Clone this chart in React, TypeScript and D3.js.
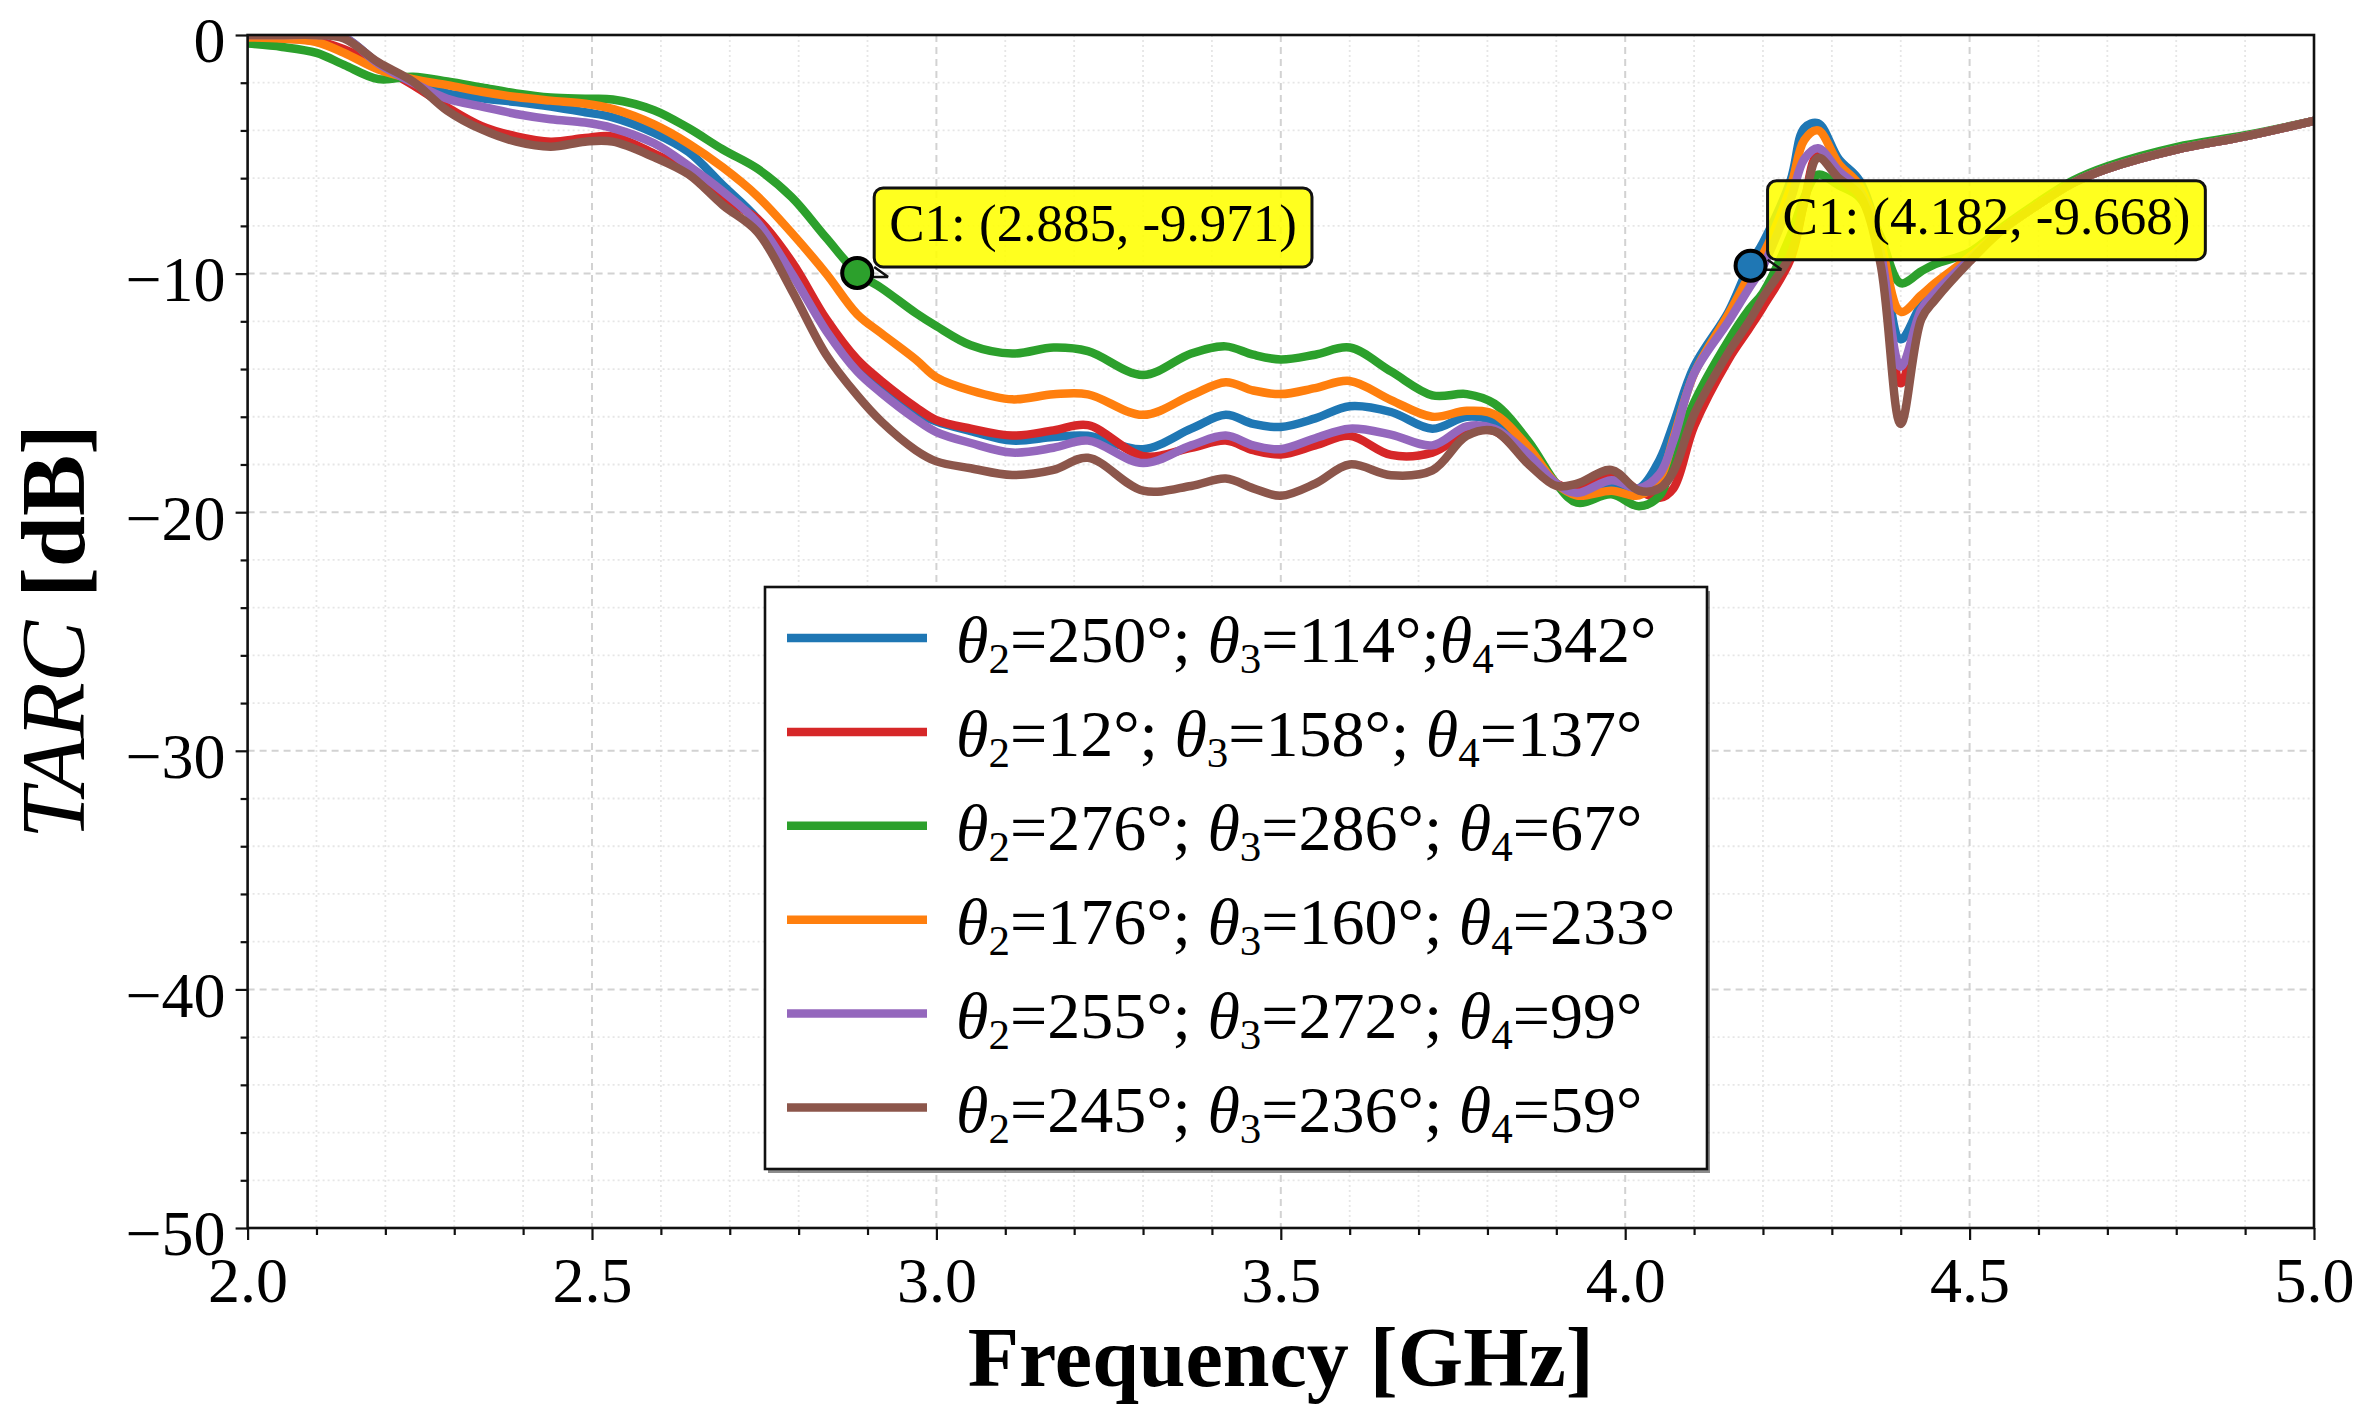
import React, { useEffect, useRef } from "react";
import * as d3 from "d3";

// frequency samples (GHz)
const freqs = [
  2.0, 2.05, 2.1, 2.14, 2.19, 2.24, 2.29, 2.34, 2.39, 2.44, 2.49, 2.53, 2.59, 2.64, 2.69,
  2.74, 2.79, 2.84, 2.885, 2.92, 2.97,
  3.0, 3.05, 3.11, 3.17, 3.22, 3.3, 3.37, 3.42, 3.46, 3.5,
  3.55, 3.6, 3.66, 3.72, 3.77, 3.81, 3.86, 3.9, 3.93, 3.98,
  4.02, 4.05, 4.07, 4.1, 4.15, 4.18, 4.2, 4.24, 4.26, 4.28,
  4.31, 4.34, 4.37, 4.4, 4.43, 4.45, 4.5, 4.55, 4.6, 4.65,
  4.7, 4.8, 4.9, 5.0,
];

// TARC [dB] per configuration
const tarcBlue = [
  0, 0, 0, -0.1, -1.2, -1.95, -2.45, -2.65, -2.81, -3.0, -3.24, -3.45, -4.1, -4.9, -6.3,
  -7.7, -9.7, -12.1, -13.8, -14.7, -15.8,
  -16.2, -16.6, -17.0, -16.85, -16.8, -17.36, -16.5, -15.92, -16.3, -16.43,
  -16.07, -15.56, -15.8, -16.5, -16.0, -16.2, -17.5, -18.8, -19.1, -18.95,
  -19.0, -17.8, -16.3, -13.9, -11.6, -9.668, -8.7, -6.1, -3.9, -3.7,
  -5.2, -6.1, -8.7, -12.75, -11.3, -10.7, -9.4, -8.1, -7.1, -6.2,
  -5.6, -4.8, -4.25, -3.6,
];
const tarcRed = [
  -0.1, -0.15, -0.25, -0.6, -1.3, -2.1, -3.03, -3.82, -4.25, -4.47, -4.32, -4.25, -4.97, -5.69, -6.84,
  -7.7, -9.5, -11.9, -13.6, -14.5, -15.6,
  -16.14, -16.5, -16.79, -16.57, -16.35, -17.65, -17.3, -17.0, -17.4, -17.58,
  -17.2, -16.8, -17.6, -17.5, -16.7, -16.6, -17.9, -18.8, -19.0, -18.4,
  -19.1, -19.4, -19.0, -16.4, -13.6, -12.3, -11.4, -9.4, -7.0, -5.0,
  -5.9, -6.6, -9.2, -14.6, -11.6, -10.9, -9.4, -8.1, -7.1, -6.2,
  -5.6, -4.8, -4.25, -3.6,
];
const tarcGreen = [
  -0.36, -0.5, -0.75, -1.25, -1.85, -1.75, -1.95, -2.2, -2.45, -2.62, -2.67, -2.7, -3.15, -3.9, -4.8,
  -5.6, -6.8, -8.5, -9.971, -10.6, -11.65,
  -12.2, -13.0, -13.35, -13.1, -13.25, -14.25, -13.35, -13.05, -13.4, -13.6,
  -13.4, -13.1, -14.1, -15.1, -15.05, -15.45, -17.05, -18.8, -19.6, -19.25,
  -19.75, -19.3, -17.6, -15.4, -12.8, -11.5, -10.8, -8.4, -6.8, -5.85,
  -6.3, -6.8, -8.4, -10.4, -9.9, -9.6, -9.1, -8.0, -7.0, -6.1,
  -5.5, -4.7, -4.2, -3.6,
];
const tarcOrange = [
  -0.1, -0.15, -0.3, -0.75, -1.45, -1.85, -2.1, -2.38, -2.6, -2.75, -2.88, -3.1, -3.75, -4.55, -5.55,
  -6.75, -8.3, -10.0, -11.7, -12.5, -13.6,
  -14.35, -14.9, -15.27, -15.06, -15.06, -15.92, -15.1, -14.55, -14.9, -15.05,
  -14.8, -14.5, -15.3, -16.0, -15.75, -15.9, -17.3, -18.8, -19.3, -19.1,
  -19.3, -18.6, -16.9, -14.2, -11.7, -10.1, -9.2, -6.4, -4.4, -4.0,
  -5.4, -6.3, -8.6, -11.6, -10.9, -10.4, -9.3, -8.1, -7.1, -6.2,
  -5.6, -4.8, -4.25, -3.6,
];
const tarcPurple = [
  0, 0, 0, -0.1, -1.2, -2.0, -2.67, -3.0, -3.31, -3.53, -3.67, -3.9, -4.54, -5.48, -6.56,
  -7.85, -10.0, -12.4, -14.1, -15.0, -16.1,
  -16.64, -17.1, -17.5, -17.3, -17.0, -17.94, -17.2, -16.79, -17.2, -17.36,
  -16.9, -16.5, -16.75, -17.2, -16.4, -16.5, -17.6, -18.8, -19.2, -18.66,
  -19.0, -18.4, -17.0, -14.2, -12.0, -10.6, -9.7, -6.9, -5.2, -4.75,
  -5.7, -6.5, -9.0, -13.9, -11.5, -10.8, -9.4, -8.1, -7.1, -6.2,
  -5.6, -4.8, -4.25, -3.6,
];
const tarcBrown = [
  0, 0, 0, -0.15, -1.15, -1.95, -3.17, -3.96, -4.47, -4.68, -4.47, -4.47, -5.12, -5.84, -7.13,
  -8.25, -10.7, -13.4, -15.1, -16.2, -17.4,
  -17.87, -18.16, -18.44, -18.23, -17.72, -19.1, -18.9, -18.59, -19.0, -19.31,
  -18.8, -18.0, -18.45, -18.25, -16.8, -16.6, -18.0, -18.9, -18.8, -18.23,
  -19.1, -19.0, -18.3, -15.9, -13.3, -12.0, -11.0, -9.2, -7.0, -5.15,
  -6.0, -6.7, -9.5, -16.3, -11.9, -11.1, -9.5, -8.1, -7.1, -6.2,
  -5.6, -4.8, -4.25, -3.6,
];

const seriesValues = [tarcBlue, tarcRed, tarcGreen, tarcOrange, tarcPurple, tarcBrown];
const theta2 = [250, 12, 276, 176, 255, 245];
const theta3 = [114, 158, 286, 160, 272, 236];
const theta4 = [342, 137, 67, 233, 99, 59];
const sep34 = [";", "; ", "; ", "; ", "; ", "; "];

const markerSeries = [2, 0];
const markerFreq = [2.885, 4.182];
const markerTarc = [-9.971, -9.668];

const xTicks = [2.0, 2.5, 3.0, 3.5, 4.0, 4.5, 5.0];
const yTicks = [0, -10, -20, -30, -40, -50];

const palette = ["#1f77b4", "#d62728", "#2ca02c", "#ff7f0e", "#9467bd", "#8c564b"];

export default function App() {
  const svgRef = useRef<SVGSVGElement>(null);
  const width = 2368;
  const height = 1427;

  useEffect(() => {
    if (!svgRef.current) return;
    document.body.style.margin = "0";
    const svg = d3.select(svgRef.current);
    svg.selectAll("*").remove();

    const m = { left: 247.6, right: 2314, top: 35, bottom: 1228 };
    const serif = "'Liberation Serif', 'Times New Roman', Times, serif";
    const x = d3.scaleLinear().domain([2, 5]).range([m.left, m.right]);
    const y = d3.scaleLinear().domain([-50, 0]).range([m.bottom, m.top]);

    svg.append("rect").attr("width", width).attr("height", height).attr("fill", "#fff");

    // grid: minor dotted, major dashed
    const minorX = d3.range(21, 50).filter(i => i % 5 !== 0).map(i => i / 10);
    const minorY = d3.range(-48, 0, 2).filter(v => v % 10 !== 0);
    const grid = svg.append("g");
    minorX.forEach(v => grid.append("line").attr("x1", x(v)).attr("x2", x(v)).attr("y1", m.top).attr("y2", m.bottom)
      .attr("stroke", "#e6e6e6").attr("stroke-width", 1.8).attr("stroke-dasharray", "2,3"));
    minorY.forEach(v => grid.append("line").attr("x1", m.left).attr("x2", m.right).attr("y1", y(v)).attr("y2", y(v))
      .attr("stroke", "#e6e6e6").attr("stroke-width", 1.8).attr("stroke-dasharray", "2,3"));
    xTicks.slice(1, -1).forEach(v => grid.append("line").attr("x1", x(v)).attr("x2", x(v)).attr("y1", m.top).attr("y2", m.bottom)
      .attr("stroke", "#d2d2d2").attr("stroke-width", 2).attr("stroke-dasharray", "7,5"));
    yTicks.slice(1, -1).forEach(v => grid.append("line").attr("x1", m.left).attr("x2", m.right).attr("y1", y(v)).attr("y2", y(v))
      .attr("stroke", "#d2d2d2").attr("stroke-width", 2).attr("stroke-dasharray", "7,5"));

    // curves
    svg.append("clipPath").attr("id", "plotClip").append("rect")
      .attr("x", m.left).attr("y", m.top).attr("width", m.right - m.left).attr("height", m.bottom - m.top);
    const line = d3.line<number>().x((_, i) => x(freqs[i])).y(d => y(d)).curve(d3.curveCatmullRom.alpha(0.5));
    const curves = svg.append("g").attr("clip-path", "url(#plotClip)");
    seriesValues.forEach((vals, i) => {
      curves.append("path").attr("d", line(vals)).attr("fill", "none").attr("stroke", palette[i])
        .attr("stroke-width", 8.5).attr("stroke-linejoin", "round");
    });

    // frame
    svg.append("rect").attr("x", m.left).attr("y", m.top).attr("width", m.right - m.left).attr("height", m.bottom - m.top)
      .attr("fill", "none").attr("stroke", "#111").attr("stroke-width", 2.6);

    // axes
    const gx = svg.append("g").attr("transform", `translate(0,${m.bottom})`)
      .call(d3.axisBottom(x).tickValues(xTicks).tickSize(12).tickPadding(17).tickFormat(d3.format(".1f")));
    const gxm = svg.append("g").attr("transform", `translate(0,${m.bottom})`)
      .call(d3.axisBottom(x).tickValues(minorX).tickSize(7).tickFormat(() => ""));
    const gy = svg.append("g").attr("transform", `translate(${m.left},0)`)
      .call(d3.axisLeft(y).tickValues(yTicks).tickSize(12).tickPadding(10).tickFormat(d3.format("d")));
    const gym = svg.append("g").attr("transform", `translate(${m.left},0)`)
      .call(d3.axisLeft(y).tickValues(minorY).tickSize(7).tickFormat(() => ""));
    [gx, gxm, gy, gym].forEach(g => {
      g.select(".domain").remove();
      g.selectAll("line").attr("stroke", "#111").attr("stroke-width", 2.2);
      g.selectAll("text").attr("font-family", serif).attr("font-size", 64).attr("fill", "#000");
    });
    gy.selectAll("text").attr("dy", "0.42em");

    // markers + annotation boxes
    markerSeries.forEach((s, k) => {
      const mx = x(markerFreq[k]);
      const my = y(markerTarc[k]);
      const bx = mx + 17;
      const bBottom = my - 6;
      const bh = 79;
      const ann = svg.append("g");
      const box = ann.append("rect").attr("x", bx).attr("y", bBottom - bh).attr("height", bh).attr("rx", 9)
        .attr("fill", "#ffff00").attr("fill-opacity", 0.88).attr("stroke", "#111").attr("stroke-width", 3);
      const t = ann.append("text").attr("x", bx + 15).attr("y", bBottom - 26).attr("font-family", serif)
        .attr("font-size", 53).attr("fill", "#000").text(`C1: (${markerFreq[k]}, ${markerTarc[k]})`);
      const tw = (t.node() as SVGTextElement).getComputedTextLength();
      box.attr("width", tw + 30);
      ann.append("path").attr("d", `M${bx},${bBottom} L${bx + 14},${my + 4} M${mx + 12},${my + 4} L${bx + 14},${my + 4}`)
        .attr("fill", "none").attr("stroke", "#111").attr("stroke-width", 2.5);
      svg.append("circle").attr("cx", mx).attr("cy", my).attr("r", 15)
        .attr("fill", palette[s]).attr("stroke", "#000").attr("stroke-width", 4);
    });

    // legend
    const lg = { x: 765, y: 587, w: 942, h: 582 };
    svg.append("rect").attr("x", lg.x + 3).attr("y", lg.y + 4).attr("width", lg.w).attr("height", lg.h)
      .attr("fill", "#000").attr("opacity", 0.45);
    svg.append("rect").attr("x", lg.x).attr("y", lg.y).attr("width", lg.w).attr("height", lg.h)
      .attr("fill", "#fff").attr("stroke", "#111").attr("stroke-width", 2.6);
    seriesValues.forEach((_, i) => {
      const yc = 638 + i * 93.9;
      svg.append("line").attr("x1", 787).attr("x2", 927).attr("y1", yc).attr("y2", yc)
        .attr("stroke", palette[i]).attr("stroke-width", 8.5);
      const t = svg.append("text").attr("x", 956).attr("y", yc + 24).attr("font-family", serif)
        .attr("font-size", 66).attr("fill", "#000").style("white-space", "pre");
      const parts: [string, string][] = [
        ["θ", "it"], ["2", "sub"], [`=${theta2[i]}°; `, "n"],
        ["θ", "it"], ["3", "sub"], [`=${theta3[i]}°${sep34[i]}`, "n"],
        ["θ", "it"], ["4", "sub"], [`=${theta4[i]}°`, "n"],
      ];
      let shifted = false;
      parts.forEach(([s, kind]) => {
        const ts = t.append("tspan").text(s);
        if (kind === "it") ts.attr("font-style", "italic");
        if (kind === "sub") {
          ts.attr("font-size", 43).attr("dy", 11);
          shifted = true;
        } else if (shifted) {
          ts.attr("dy", -11);
          shifted = false;
        }
      });
    });

    // axis titles
    svg.append("text").attr("x", (m.left + m.right) / 2).attr("y", 1386).attr("text-anchor", "middle")
      .attr("font-family", serif).attr("font-size", 84).attr("font-weight", "bold").attr("fill", "#000")
      .text("Frequency [GHz]");
    const yl = svg.append("text").attr("transform", `translate(84,${(m.top + m.bottom) / 2}) rotate(-90)`)
      .attr("text-anchor", "middle").attr("font-family", serif).attr("font-size", 92).attr("fill", "#000")
      .style("white-space", "pre");
    yl.append("tspan").attr("font-style", "italic").text("TARC ");
    yl.append("tspan").attr("font-weight", "bold").text("[dB]");
  }, []);

  return <svg ref={svgRef} width={width} height={height} viewBox={`0 0 ${width} ${height}`} style={{ display: "block" }} />;
}
